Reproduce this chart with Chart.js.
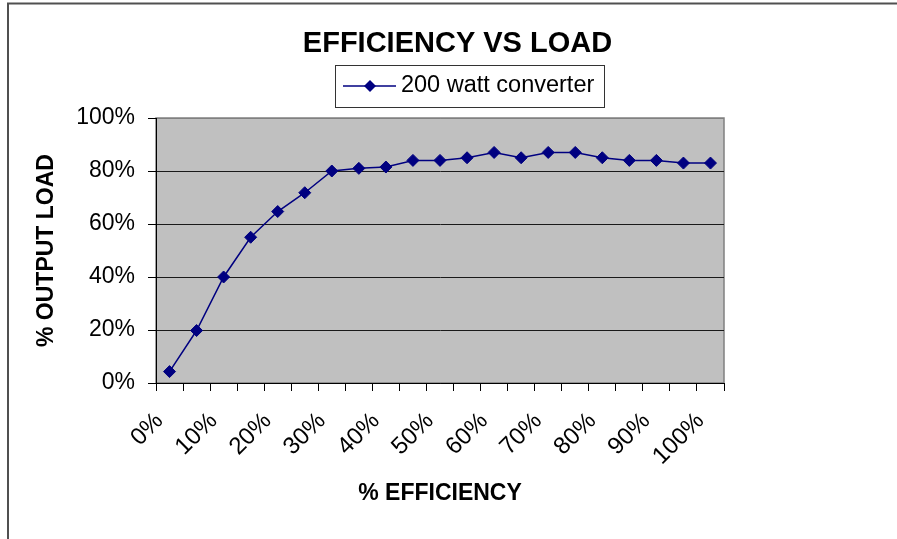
<!DOCTYPE html>
<html>
<head>
<meta charset="utf-8">
<script src="https://cdn.jsdelivr.net/npm/chart.js@4/dist/chart.umd.min.js"></script>
<style>
  html, body { margin: 0; padding: 0; background: #fff; }
  #wrap { width: 897px; height: 539px; }
</style>
</head>
<body>
<div id="wrap"><canvas id="chart" width="897" height="539"></canvas></div>
<script>
// chart data
const categories = ['0%', '5%', '10%', '15%', '20%', '25%', '30%', '35%', '40%', '45%', '50%',
  '55%', '60%', '65%', '70%', '75%', '80%', '85%', '90%', '95%', '100%'];
const converter200 = [4.3, 19.8, 40, 55, 64.7, 71.8, 80, 81, 81.5, 84, 84,
  85, 87, 85, 87, 87, 85, 84, 84, 83, 83];
const yTickValues = [0, 20, 40, 60, 80, 100];

const NAVY = '#000080';
const FONT = "'Liberation Sans', Arial, sans-serif";

Chart.defaults.font.family = FONT;
Chart.defaults.color = '#000';

// legend symbol: line with a diamond in the middle
function legendSymbol() {
  const c = document.createElement('canvas');
  c.width = 84;
  c.height = 16;
  const g = c.getContext('2d');
  g.strokeStyle = NAVY;
  g.lineWidth = 1.5;
  g.beginPath();
  g.moveTo(30, 8);
  g.lineTo(83, 8);
  g.stroke();
  g.fillStyle = NAVY;
  g.beginPath();
  g.moveTo(57, 2);
  g.lineTo(63, 8);
  g.lineTo(57, 14);
  g.lineTo(51, 8);
  g.closePath();
  g.fill();
  return c;
}

// gray plot area, plot frame, outer frame and legend box
const decorations = {
  id: 'decorations',
  beforeDraw(chart) {
    const { ctx, chartArea: a } = chart;
    ctx.save();
    ctx.fillStyle = '#c0c0c0';
    ctx.fillRect(a.left, a.top, a.right - a.left, a.bottom - a.top);
    ctx.strokeStyle = '#808080';
    ctx.lineWidth = 1.5;
    ctx.strokeRect(a.left, a.top, a.right - a.left, a.bottom - a.top);

    // outer frame (only top and left are visible)
    ctx.strokeStyle = '#505050';
    ctx.lineWidth = 2;
    ctx.beginPath();
    ctx.moveTo(8, 539);
    ctx.lineTo(8, 3.5);
    ctx.lineTo(897, 3.5);
    ctx.stroke();
    ctx.restore();
  },
  afterDraw(chart) {
    const hb = chart.legend && chart.legend.legendHitBoxes && chart.legend.legendHitBoxes[0];
    if (!hb) return;
    const { ctx } = chart;
    const textX = hb.left + 68.5 + 11.75;
    ctx.save();
    ctx.strokeStyle = '#333';
    ctx.lineWidth = 1;
    const x0 = Math.round(textX - 66) + 0.5;
    const x1 = Math.round(hb.left + hb.width + 10) + 0.5;
    const y0 = Math.round(hb.top - 9.5) + 0.5;
    const y1 = Math.round(hb.top + hb.height + 9.5) + 0.5;
    ctx.strokeRect(x0, y0, x1 - x0, y1 - y0);
    ctx.restore();
  }
};

const ctx = document.getElementById('chart').getContext('2d');

new Chart(ctx, {
  type: 'line',
  data: {
    labels: categories,
    datasets: [
      {
        label: '200 watt converter',
        data: converter200,
        borderColor: NAVY,
        backgroundColor: NAVY,
        borderWidth: 1.5,
        pointStyle: 'rectRot',
        pointRadius: 6,
        pointBorderWidth: 1,
        tension: 0,
        fill: false,
      },
    ],
  },
  options: {
    responsive: false,
    animation: false,
    layout: { padding: { top: 10, left: 18, right: 0, bottom: 0 } },
    plugins: {
      title: {
        display: true,
        text: 'EFFICIENCY VS LOAD',
        font: { size: 29, weight: 'bold' },
        color: '#000',
        padding: { top: 16.6, bottom: 0 },
      },
      legend: {
        display: true,
        position: 'top',
        labels: {
          usePointStyle: true,
          pointStyle: legendSymbol(),
          pointStyleWidth: 68.5,
          padding: 12.85,
          color: '#000',
          font: { size: 23.5 },
        },
      },
      tooltip: { enabled: false },
    },
    scales: {
      x: {
        type: 'category',
        position: 'bottom',
        offset: true,
        grid: {
          offset: true,
          drawOnChartArea: false,
          drawTicks: true,
          tickLength: 8,
          tickColor: '#000',
        },
        border: { display: true, color: '#000', width: 1 },
        ticks: {
          autoSkip: false,
          maxRotation: 45,
          minRotation: 45,
          padding: 16,
          labelOffset: -10,
          font: { size: 24 },
          color: '#000',
          callback(value, index) {
            return index % 2 === 0 ? categories[index] : '';
          },
        },
        title: {
          display: true,
          text: '% EFFICIENCY',
          font: { size: 23, weight: 'bold' },
          color: '#000',
          padding: { top: 0, bottom: 31.2 },
        },
        afterFit(scale) { scale.height = 156; },
      },
      xTop: {
        type: 'category',
        position: 'top',
        display: true,
        grid: { display: false },
        border: { display: false },
        ticks: { display: false },
        afterFit(scale) { scale.height = 10.25; },
      },
      y: {
        position: 'left',
        min: 0,
        max: 100,
        afterBuildTicks(scale) {
          scale.ticks = yTickValues.map(v => ({ value: v }));
        },
        grid: {
          color: (c) => (c.tick && c.tick.value === 100 ? '#808080' : '#1a1a1a'),
          lineWidth: 1,
          drawTicks: true,
          tickLength: 8,
          tickColor: '#000',
        },
        border: { display: true, color: '#000', width: 1 },
        ticks: {
          padding: 13,
          font: { size: 23 },
          color: '#000',
          callback: (v) => v + '%',
        },
        title: {
          display: true,
          text: '% OUTPUT LOAD',
          font: { size: 23, weight: 'bold' },
          color: '#000',
          padding: { top: 15.2, bottom: 0 },
        },
        afterFit(scale) { scale.width = 138; },
      },
      yRight: {
        type: 'linear',
        position: 'right',
        display: true,
        grid: { display: false },
        border: { display: false },
        ticks: { display: false },
        afterFit(scale) { scale.width = 173; },
      },
    },
  },
  plugins: [decorations],
});
</script>
</body>
</html>
